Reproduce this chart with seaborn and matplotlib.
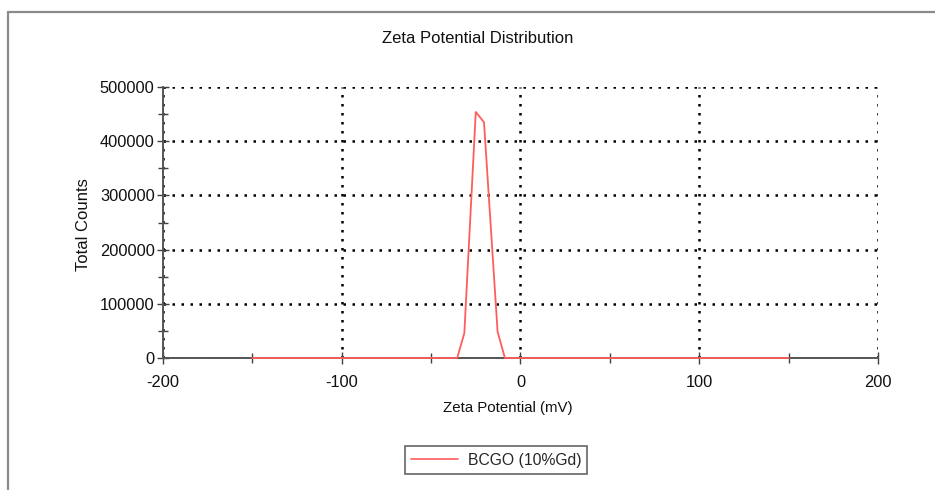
import matplotlib
matplotlib.use("Agg")
import matplotlib.pyplot as plt
from matplotlib.lines import Line2D
from matplotlib.ticker import MultipleLocator
import seaborn as sns
import pandas as pd

# Data
zeta_mv = [-150, -35.4, -31.4, -25.0, -20.4, -12.8, -8.7, 150]
total_counts = [0, 0, 46000, 454000, 435000, 48500, 0, 0]
series_name = "BCGO (10%Gd)"
x_ticks = [-200, -100, 0, 100, 200]
y_ticks = [0, 100000, 200000, 300000, 400000, 500000]

df = pd.DataFrame({"Zeta Potential (mV)": zeta_mv, "Total Counts": total_counts,
                   "Sample": [series_name] * len(zeta_mv)})

sns.set_style("white")
plt.rcParams["font.family"] = ["Liberation Sans", "DejaVu Sans"]

fig = plt.figure(figsize=(9.35, 4.9), dpi=100)
ax = fig.add_axes([0.1743, 0.2694, 0.7647, 0.553])

sns.lineplot(data=df, x="Zeta Potential (mV)", y="Total Counts", hue="Sample",
             palette=["#ff5c5c"], linewidth=1.3, ax=ax, legend=False)
for l in ax.lines:
    l.set_clip_on(False)
    l.set_zorder(10)

ax.set_xlim(-200, 200)
ax.set_ylim(0, 500000)
ax.set_xticks(x_ticks)
ax.set_yticks(y_ticks)
ax.set_xticklabels([str(v) for v in x_ticks])
ax.set_yticklabels([str(v) for v in y_ticks])
ax.xaxis.set_minor_locator(MultipleLocator(50))
ax.yaxis.set_minor_locator(MultipleLocator(50000))

ax.grid(True, which="major", color="black", linestyle=(0, (1, 2.6)), linewidth=1.8)
ax.grid(False, which="minor")
ax.set_axisbelow(True)
for s in ["top", "right"]:
    ax.spines[s].set_visible(False)
for s in ["left", "bottom"]:
    ax.spines[s].set_color("#555555")
    ax.spines[s].set_linewidth(1.4)

ax.tick_params(axis="both", which="both", bottom=True, left=True, top=False, right=False)
ax.tick_params(axis="both", which="major", direction="inout", length=8, width=1,
               color="#404040", labelsize=11.8, labelcolor="#111111", pad=2)
ax.tick_params(axis="x", which="major", pad=8)
ax.tick_params(axis="both", which="minor", direction="inout", length=7, width=1,
               color="#404040")
ax.set_xlabel("")
ax.set_ylabel("")

fig.text(0.511, 0.922, "Zeta Potential Distribution", ha="center", va="center",
         fontsize=12, color="#111111")
fig.text(0.543, 0.167, "Zeta Potential (mV)", ha="center", va="center",
         fontsize=10.8, color="#111111")
fig.text(0.0898, 0.541, "Total Counts", ha="center", va="center", rotation=90,
         fontsize=12, color="#111111")

handle = Line2D([], [], color="#ff5c5c", linewidth=1.2)
leg = fig.legend([handle], [series_name], loc="center", bbox_to_anchor=(0.5305, 0.061),
                 frameon=True, fancybox=False, fontsize=11.3, handlelength=3,
                 borderpad=0.4, handletextpad=0.6)
leg.get_frame().set_edgecolor("#404040")
leg.get_frame().set_linewidth(1.2)

# outer frame lines
fig.add_artist(Line2D([8 / 935, 8 / 935], [0, 1 - 12 / 490], transform=fig.transFigure,
                      color="#8a8a8a", linewidth=1.6))
fig.add_artist(Line2D([8 / 935, 1], [1 - 12 / 490, 1 - 12 / 490], transform=fig.transFigure,
                      color="#8a8a8a", linewidth=1.6))

fig.savefig("out.png", dpi=100)
